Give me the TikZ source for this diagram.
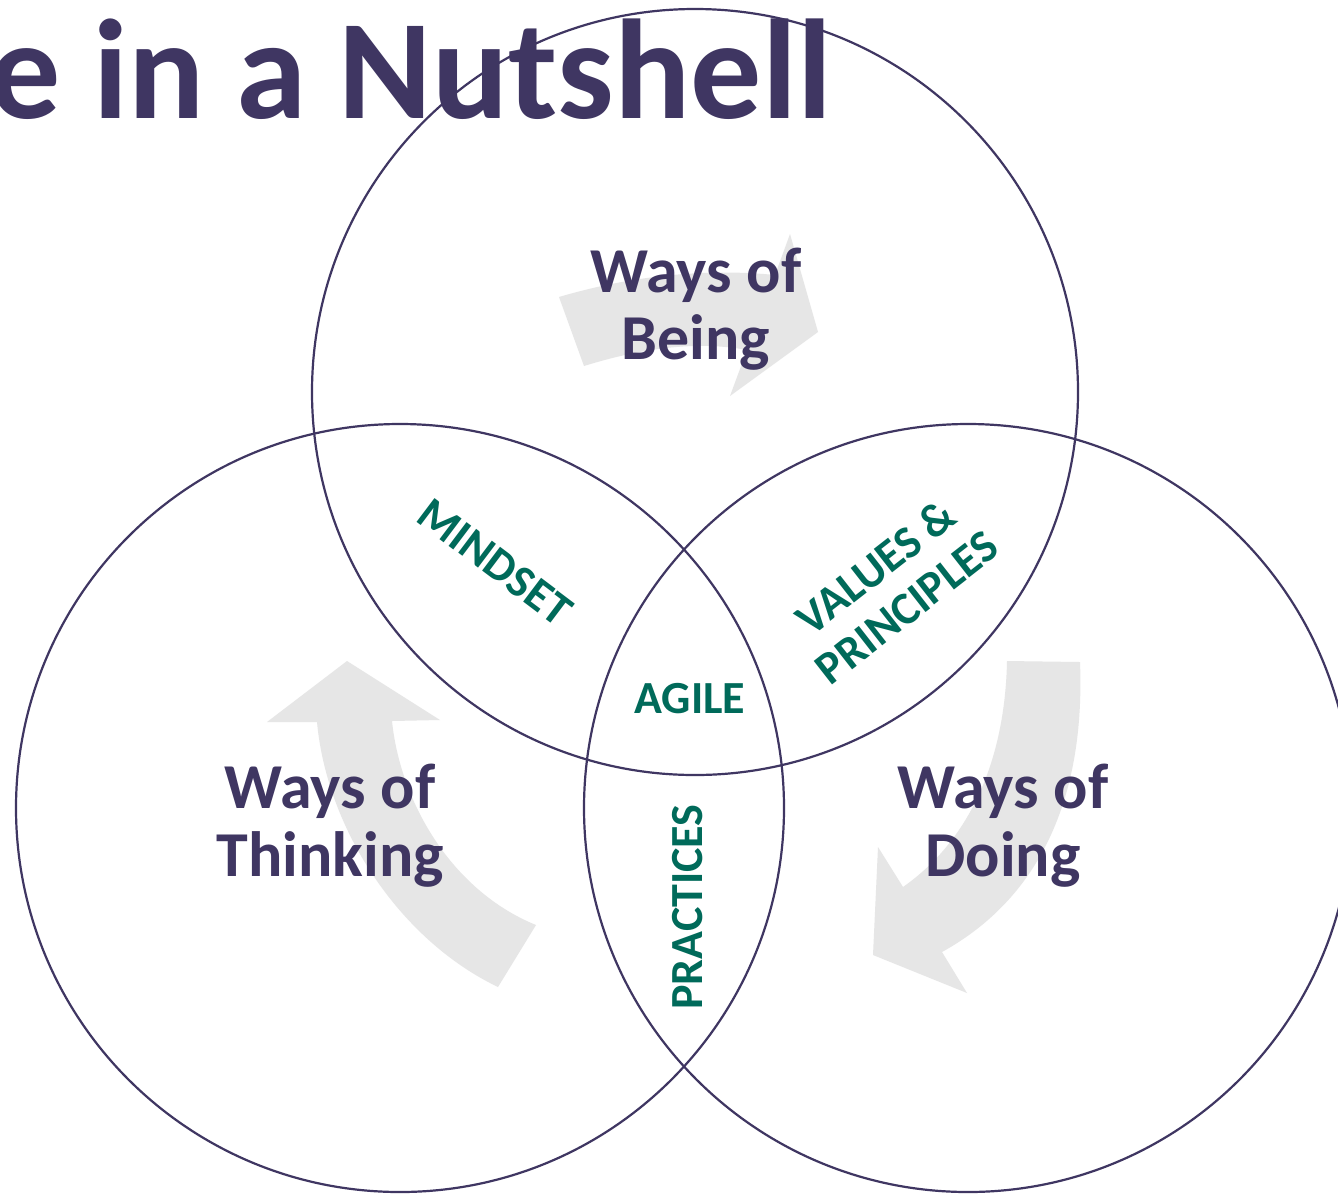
\documentclass[tikz,border=0pt]{standalone}
\usepackage{fontspec}
\setmainfont{Carlito}
\definecolor{inkpurple}{RGB}{63,54,98}
\definecolor{labelgreen}{RGB}{0,106,90}
\definecolor{arrowgray}{RGB}{230,230,230}
\begin{document}
\begin{tikzpicture}[x=1pt,y=-1pt,
  ring/.style={draw=inkpurple,line width=2.2pt},
  flow/.style={fill=arrowgray},
  big/.style={text=inkpurple,font=\bfseries\fontsize{64}{67}\selectfont,inner sep=0pt,anchor=base},
  tag/.style={text=labelgreen,font=\bfseries\fontsize{46}{51}\selectfont,align=center,inner sep=0pt}]
\useasboundingbox (0,0) rectangle (1338,1195);
\fill[white] (0,0) rectangle (1338,1195);
\clip (0,0) rectangle (1338,1195);

% title
\node[text=inkpurple,font=\bfseries\fontsize{142}{142}\selectfont,anchor=base east,inner sep=0pt]
  (title) at (832,118) {e in a Nutshell};

% curved flow arrows behind the circles
\fill[flow] (559,297) .. controls (630,276) and (705,268) .. (775,275)
  -- (790,234) -- (818,332) -- (730,396) -- (747,350)
  .. controls (700,341) and (645,347) .. (584,366) -- cycle;
\fill[flow] (498,987) .. controls (400,940) and (327,830) .. (317,722)
  -- (267,722) -- (347,661) -- (440,720) -- (392,721)
  .. controls (400,800) and (450,890) .. (536,925) -- cycle;
\fill[flow] (1007,661) -- (1080,662) .. controls (1085,790) and (1045,895) .. (942,952)
  -- (967,993) -- (873,955) -- (878,847) -- (903,887)
  .. controls (970,840) and (1005,760) .. (1007,661) -- cycle;

% the three circles
\draw[ring] (695,392) circle[radius=383];
\draw[ring] (400,808) circle[radius=384];
\draw[ring] (968,808) circle[radius=384];

% circle labels
\node[big] (being1) at (696,292) {Ways of};
\node[big] (being2) at (696,359) {Being};
\node[big] (think1) at (330,808) {Ways of};
\node[big] (think2) at (330,876) {Thinking};
\node[big] (doing1) at (1003,808) {Ways of};
\node[big] (doing2) at (1003,876) {Doing};

% overlap labels
\node[tag,rotate=-37] (mindset) at (495,562) {MINDSET};
\node[tag,rotate=38] (values) at (891,587) {VALUES \&\\PRINCIPLES};
\node[tag,anchor=base] (agile) at (690,713) {AGILE};
\node[tag,rotate=90] (practices) at (688,907) {PRACTICES};
\end{tikzpicture}
\end{document}
